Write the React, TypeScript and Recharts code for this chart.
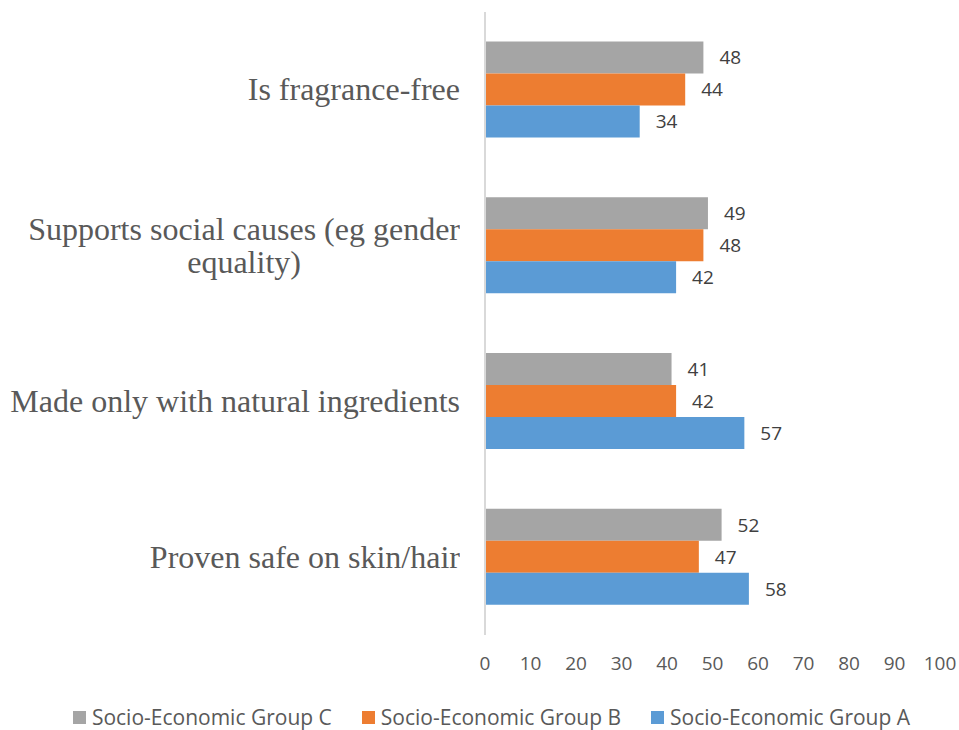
import { BarChart, Bar, XAxis, YAxis, Legend, LabelList } from "recharts";

const categories = [
  "Is fragrance-free",
  "Supports social causes (eg gender equality)",
  "Made only with natural ingredients",
  "Proven safe on skin/hair",
];
const groupC = [48, 49, 41, 52];
const groupB = [44, 48, 42, 47];
const groupA = [34, 42, 57, 58];
const xTicks = [0, 10, 20, 30, 40, 50, 60, 70, 80, 90, 100];

const SERIES = [
  { key: "c", name: "Socio-Economic Group C", color: "#A5A5A5" },
  { key: "b", name: "Socio-Economic Group B", color: "#ED7D31" },
  { key: "a", name: "Socio-Economic Group A", color: "#5B9BD5" },
];

const data = categories.map((name, i) => ({
  name,
  c: groupC[i],
  b: groupB[i],
  a: groupA[i],
}));

const SANS = "'Open Sans', sans-serif";
const SERIF = "'Liberation Serif', 'Times New Roman', serif";

// split long labels into lines of about 35 characters
function wrap(text: string, max = 35) {
  const words = text.split(" ");
  const lines: string[] = [];
  let cur = "";
  for (const w of words) {
    const next = cur ? cur + " " + w : w;
    if (next.length > max && cur) {
      lines.push(cur);
      cur = w;
    } else {
      cur = next;
    }
  }
  if (cur) lines.push(cur);
  return lines;
}

function CategoryTick({ x, y, payload }: any) {
  const lines = wrap(payload.value);
  const lineH = 33;
  const h = lines.length * lineH + 6;
  const w = x - 17;
  return (
    <foreignObject x={0} y={y - h / 2} width={w} height={h}>
      <div style={{ display: "flex", justifyContent: "flex-end", alignItems: "center", width: w, height: h }}>
        <div
          style={{
            textAlign: "center",
            fontFamily: SERIF,
            fontSize: 32,
            lineHeight: `${lineH}px`,
            color: "#595959",
            whiteSpace: "nowrap",
          }}
        >
          {lines.map((l, i) => (
            <div key={i}>{l}</div>
          ))}
        </div>
      </div>
    </foreignObject>
  );
}

function LegendContent() {
  return (
    <div
      style={{
        display: "flex",
        justifyContent: "center",
        gap: 30,
        height: 45,
        boxSizing: "border-box",
        paddingTop: 19,
        paddingLeft: 43,
        fontFamily: SANS,
        fontSize: 21,
        lineHeight: "26px",
        color: "#595959",
      }}
    >
      {SERIES.map((s) => (
        <div key={s.key} style={{ display: "flex", alignItems: "center", whiteSpace: "nowrap" }}>
          <span style={{ width: 13, height: 13, background: s.color, marginRight: 6, display: "inline-block" }} />
          {s.name}
        </div>
      ))}
    </div>
  );
}

export default function App() {
  return (
    <>
      <style>{"body { margin: 0; }"}</style>
      <BarChart
        width={959}
        height={730}
        data={data}
        layout="vertical"
        margin={{ top: 12, right: 19, left: 0, bottom: 0 }}
        barCategoryGap="19%"
        barGap={0}
      >
        <XAxis
          type="number"
          domain={[0, 100]}
          ticks={xTicks}
          axisLine={false}
          tickLine={false}
          tickSize={0}
          tickMargin={22}
          height={50}
          interval={0}
          tick={{ fill: "#595959", fontSize: 19, fontFamily: SANS }}
        />
        <YAxis
          type="category"
          dataKey="name"
          width={485}
          axisLine={{ stroke: "#D9D9D9", strokeWidth: 2 }}
          tickLine={false}
          tick={<CategoryTick />}
          interval={0}
        />
        <Legend verticalAlign="bottom" content={<LegendContent />} />
        {SERIES.map((s) => (
          <Bar key={s.key} dataKey={s.key} name={s.name} fill={s.color} isAnimationActive={false}>
            <LabelList
              dataKey={s.key}
              position="right"
              offset={16}
              fill="#404040"
              fontSize={19}
              fontFamily={SANS}
            />
          </Bar>
        ))}
      </BarChart>
    </>
  );
}
